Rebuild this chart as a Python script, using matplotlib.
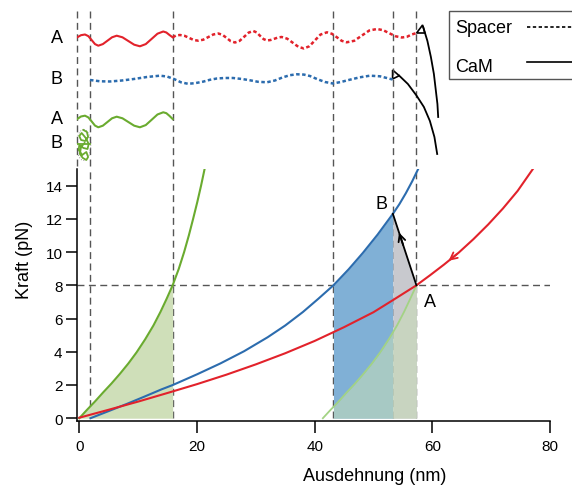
import numpy as np
import matplotlib
matplotlib.use('Agg')
import matplotlib.pyplot as plt
from matplotlib.lines import Line2D
from matplotlib.patches import Ellipse, Rectangle

plt.rcParams['font.family'] = ['Liberation Sans', 'DejaVu Sans']

# force-extension curves (nm, pN)
green_x = [0, 1.3, 2.65, 4.1, 5.5, 6.9, 8.35, 9.75, 11.2, 12.6, 13.8, 14.85, 15.87,
           16.92, 17.82, 18.62, 19.35, 20.05, 20.7, 21.3]
green_y = [0, 0.5, 1.0, 1.57, 2.1, 2.67, 3.3, 3.97, 4.75, 5.58, 6.4, 7.19, 8.0,
           9.0, 10.0, 11.0, 12.0, 13.0, 14.0, 15.0]
lgreen_x = [41.4, 42.7, 43.2, 44.05, 45.5, 46.9, 48.3, 49.75, 51.15, 52.6, 54.0, 55.2, 56.25, 57.3]
lgreen_y = [0, 0.5, 0.68, 1.0, 1.57, 2.1, 2.67, 3.3, 3.97, 4.75, 5.58, 6.4, 7.19, 8.0]
blue_x = [1.9, 5, 8, 11, 14, 15.9, 20, 24, 28, 32, 35, 38, 40.6, 43.2, 45.8, 48.2,
          50.7, 53.3, 54.4, 55.5, 56.6, 57.6]
blue_y = [0, 0.43, 0.85, 1.29, 1.74, 2.0, 2.64, 3.30, 4.03, 4.87, 5.58, 6.39, 7.18, 8.0,
          8.97, 9.95, 11.05, 12.3, 12.88, 13.54, 14.27, 15.0]
red_x = [0, 5, 10, 15, 20, 25, 30, 35, 40, 45, 50, 53.5, 57.3, 59.6, 62, 64.5, 67, 69.5,
         72, 74.5, 77.1]
red_y = [0.03, 0.51, 1.0, 1.52, 2.05, 2.62, 3.24, 3.91, 4.65, 5.48, 6.38, 7.15, 8.0, 8.6,
         9.25, 9.97, 10.78, 11.66, 12.62, 13.68, 15.0]

state_A = (57.3, 8.0)
state_B = (53.3, 12.3)
f_level = 8.0
guide_x = [1.82, 15.87, 43.2, 53.3, 57.3]

# schematic above the plot: x in nm, y in schematic units (downwards)
solid_x = [-0.34, 0.29, 0.97, 1.53, 2.11, 2.67, 3.23, 4.01, 4.79, 5.57, 6.36, 7.34,
           8.33, 9.33, 10.31, 11.30, 12.30, 13.29, 14.27, 14.80, 15.33, 15.87]
red_solid_y = [38.3, 36.2, 35.5, 37.1, 41.1, 45.1, 46.7, 45.1, 41.7, 38.3, 36.7, 38.3,
               42.0, 45.7, 47.3, 45.1, 39.9, 34.7, 32.5, 33.5, 36.0, 38.3]
green_solid_y = [120, 117.5, 116.7, 118.4, 122.5, 126.6, 128.3, 126.7, 123, 119.3, 117.7, 119.3,
                 123, 126.7, 128.3, 126.1, 120.8, 115.5, 113.3, 114.2, 116.9, 120]
red_dot_x = [15.87, 16.43, 17.11, 17.89, 18.67, 19.44, 20.22, 21.07, 21.92, 22.77, 23.62, 24.33,
             25.05, 25.74, 26.46, 27.24, 28.02, 28.79, 29.57, 30.14, 30.72, 31.32, 31.89, 32.52,
             33.15, 33.76, 34.39, 35.34, 36.30, 37.23, 38.18, 39.12, 40.05, 40.99, 42.09, 42.94,
             43.79, 44.59, 45.44, 46.73, 48.02, 49.29, 50.59, 51.66, 52.71, 53.78, 54.83, 55.68,
             56.50, 57.33]
red_dot_y = [38.3, 36.5, 36.0, 36.8, 38.9, 41.0, 41.7, 40.7, 38.1, 35.5, 34.5, 35.8,
             39.0, 42.2, 43.5, 41.9, 37.8, 33.6, 32.0, 33.4, 36.8, 40.1, 41.5, 41.0,
             39.8, 38.5, 38.0, 39.7, 43.8, 47.8, 49.5, 47.2, 41.4, 35.6, 33.3, 34.8,
             38.3, 41.8, 43.3, 41.8, 36.6, 31.5, 30.0, 31.2, 34.3, 37.3, 38.5, 37.8,
             35.5, 34.0]
blue_dot_x = [1.82, 3.52, 5.22, 7.26, 9.29, 11.50, 13.71, 14.90, 16.09, 17.28, 18.47, 19.66,
              21.02, 22.21, 23.40, 24.76, 26.12, 27.65, 29.01, 30.37, 31.89, 33.25, 34.61, 35.80,
              36.99, 38.18, 39.20, 40.39, 41.75, 43.11, 44.47, 46.00, 47.70, 49.40, 51.10, 52.12,
              53.25]
blue_dot_y = [81, 82.3, 82.5, 81.5, 80, 78, 76.7, 77.5, 80, 83.3, 84.8, 84.2,
              82.7, 80.8, 79.5, 79, 79, 80, 81.3, 82.8, 83.3, 81.5, 78.3, 76.2,
              75.3, 75.6, 77, 80, 83, 84.5, 83, 80.7, 78.3, 76.7, 77.3, 78.8,
              80.5]
coil_x = [0.7, 1.3, 1.5, 1.0, 0.3, 0.0, 0.4, 1.1, 1.6, 1.4, 0.7, 0.0, -0.1, 0.5, 1.2, 1.5,
          1.2, 0.6, 0.1, 0.3, 0.9]
coil_y = [131, 133, 138, 142, 141, 137, 134, 139, 145, 150, 149, 146, 151, 156, 153, 158,
          161, 159, 155, 148, 144]
hookA_x = [58.45, 59.17, 59.76, 60.27, 60.61, 60.87, 61.00]
hookA_y = [28, 42, 58, 75, 92, 105, 118]
hookB_x = [54.38, 55.85, 57.33, 58.57, 59.59, 60.36, 60.83]
hookB_y = [76.7, 85, 96.7, 108, 122, 138, 155]
triA_x = [57.33, 58.35, 58.74]
triA_y = [34, 26, 34]
triB_x = [53.25, 53.25, 54.38]
triB_y = [71, 80, 76.7]
row_labels = ['A', 'B', 'A', 'B']
row_y = [38.3, 80, 120, 144]
legend_labels = ['Spacer', 'CaM']

red = '#e2222b'
blue = '#2c6cae'
green = '#6aab2f'
lgreen = '#a3d384'
dash_c = '#555555'

fig = plt.figure(figsize=(5.72, 4.89), dpi=100)
ax = fig.add_axes([0.1351, 0.1376, 0.8264, 0.5148])
sk = fig.add_axes([0.1351, 0.6524, 0.8264, 0.3476], sharex=ax)

dash = (0, (5, 3.2))
for gx in guide_x:
    ax.plot([gx, gx], [0, 15], color=dash_c, lw=1, ls=dash, zorder=1)
ax.plot([-0.34, 80], [f_level, f_level], color=dash_c, lw=1, ls=dash, zorder=1)

# shaded areas
gx_arr = np.array(green_x); gy_arr = np.array(green_y)
m = gx_arr <= 15.87
ax.fill_between(gx_arr[m], 0, gy_arr[m], color='#cfdfb9', lw=0, zorder=2)
bx = np.array(blue_x); by = np.array(blue_y)
m = (bx >= 43.2) & (bx <= state_B[0])
ax.fill_between(bx[m], 0, by[m], color='#80b0d6', lw=0, zorder=2)
ax.fill_between([state_B[0], state_A[0]], 0, [state_B[1], state_A[1]], color='#c8c9ce', lw=0, zorder=2)
lx = np.array(lgreen_x); ly = np.array(lgreen_y)
m = lx >= 43.2
ax.fill_between(lx[m], 0, ly[m], color='#c8deb6', alpha=0.55, lw=0, zorder=2)

ax.plot(lgreen_x, lgreen_y, color=lgreen, lw=1.3, zorder=3)
ax.plot(green_x, green_y, color=green, lw=1.5, zorder=4)
ax.plot(blue_x, blue_y, color=blue, lw=1.5, zorder=4)
ax.plot(red_x, red_y, color=red, lw=1.5, zorder=4)

ax.plot([state_A[0], state_B[0]], [state_A[1], state_B[1]], color='black', lw=1.3, zorder=5)
ax.annotate('', xy=(54.2, 11.33), xytext=(55.2, 10.26),
            arrowprops=dict(arrowstyle='->,head_length=0.5,head_width=0.25', color='black', lw=1.3))
ax.annotate('', xy=(62.4, 9.37), xytext=(64.5, 9.97),
            arrowprops=dict(arrowstyle='->,head_length=0.5,head_width=0.25', color=red, lw=1.3))
ax.text(51.4, 12.9, 'B', fontsize=13, ha='center', va='center')
ax.text(59.6, 7.0, 'A', fontsize=13, ha='center', va='center')

ax.set_xlim(-0.34, 80)
ax.set_ylim(-0.15, 15)
ax.set_xticks([0, 20, 40, 60, 80])
ax.set_yticks(range(0, 15, 2))
ax.spines['top'].set_visible(False)
ax.spines['right'].set_visible(False)
for s in ('left', 'bottom'):
    ax.spines[s].set_linewidth(1.1)
ax.tick_params(axis='x', length=8.4, width=1.1, pad=5, labelsize=11)
ax.tick_params(axis='y', length=7.7, width=1.1, pad=3, labelsize=11)
ax.set_xlabel('Ausdehnung (nm)', fontsize=13)
ax.set_ylabel('Kraft (pN)', fontsize=13)
ax.xaxis.set_label_coords(0.63, -0.185)
ax.yaxis.set_label_coords(-0.093, 0.642)

# schematic
sk.set_ylim(170, 0)
sk.axis('off')
for gx in [-0.34] + guide_x:
    sk.plot([gx, gx], [12, 170], color=dash_c, lw=1, ls=dash, clip_on=False)
sk.plot(solid_x, red_solid_y, color=red, lw=1.5)
sk.plot(red_dot_x, red_dot_y, color=red, lw=1.8, ls=(0, (1.4, 1.0)))
sk.plot(blue_dot_x, blue_dot_y, color=blue, lw=1.8, ls=(0, (1.4, 1.0)))
sk.plot(solid_x, green_solid_y, color=green, lw=1.5)
sk.add_patch(Ellipse((0.75, 146), 2.4, 31, fill=False, ec='#999999', lw=0.7, ls=':'))
sk.plot(coil_x, coil_y, color=green, lw=1.3)
sk.plot([-0.4, 1.9], [145, 145], color=green, lw=1.3)
sk.fill(triA_x, triA_y, fc='none', ec='black', lw=1.2)
sk.fill(triB_x, triB_y, fc='none', ec='black', lw=1.2)
sk.plot(hookA_x, hookA_y, color='black', lw=1.3)
sk.plot(hookB_x, hookB_y, color='black', lw=1.3)
for lab, yy in zip(row_labels, row_y):
    sk.text(-3.8, yy, lab, fontsize=13, ha='center', va='center', clip_on=False)

# legend box, running off the right edge like the original
fig.patches.append(Rectangle((0.7855, 0.8364), 0.3, 0.1396, transform=fig.transFigure,
                             fc='white', ec='#555555', lw=1, zorder=5))
leg_styles = [(0, (2, 1.5)), '-']
for lab, st, ty, ly_ in zip(legend_labels, leg_styles, [0.9319, 0.8534], [0.9421, 0.8706]):
    fig.text(0.7955, ty, lab, fontsize=13, va='baseline', ha='left', zorder=6)
    fig.add_artist(Line2D([0.921, 1.0], [ly_, ly_], transform=fig.transFigure,
                          color='black', lw=1.2, ls=st, zorder=6))

fig.savefig('out.png', dpi=100)
